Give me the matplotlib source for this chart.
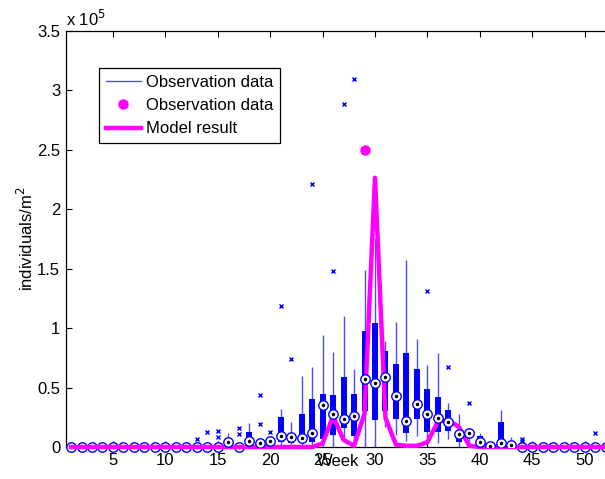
import numpy as np
import matplotlib
matplotlib.use("Agg")
import matplotlib.pyplot as plt
from matplotlib.lines import Line2D
from matplotlib.ticker import FuncFormatter

plt.rcParams['font.family'] = ['Liberation Sans', 'DejaVu Sans']

# ===== dados (unidades de 1e5 individuos/m2) =====
SCALE = 1e5
weeks = np.arange(1, 53)

med = [0, 0, 0, 0, 0, 0, 0, 0, 0, 0, 0, 0, 0, 0, 0, 0.04, 0, 0.05, 0.036, 0.053,
       0.09, 0.087, 0.078, 0.115, 0.35, 0.275, 0.235, 0.26, 0.57, 0.54,
       0.59, 0.43, 0.22, 0.36, 0.275, 0.24, 0.21, 0.107, 0.115, 0.04,
       0.01, 0.03, 0.02, 0, 0, 0, 0, 0, 0, 0, 0, 0]
q1 = [0, 0, 0, 0, 0, 0, 0, 0, 0, 0, 0, 0, 0, 0, 0, 0.02, 0, 0.03, 0.01, 0.02,
      0.045, 0.03, 0.04, 0.045, 0.07, 0.10, 0.16, 0.095, 0.30, 0.225,
      0.305, 0.233, 0.12, 0.233, 0.13, 0.13, 0.135, 0.045, 0.09, 0.02,
      0, 0.01, 0, 0, 0, 0, 0, 0, 0, 0, 0, 0]
q3 = [0, 0, 0, 0, 0, 0, 0, 0, 0, 0, 0, 0, 0, 0, 0, 0.05, 0, 0.13, 0.05, 0.07,
      0.25, 0.12, 0.28, 0.40, 0.45, 0.44, 0.586, 0.445, 0.975, 1.045,
      0.81, 0.70, 0.79, 0.656, 0.49, 0.42, 0.31, 0.143, 0.13, 0.095,
      0.01, 0.21, 0.02, 0, 0, 0, 0, 0, 0, 0, 0, 0]
wlo = [0, 0, 0, 0, 0, 0, 0, 0, 0, 0, 0, 0, 0, 0, 0, 0, 0, 0, 0, 0,
       0, 0, 0, 0, 0, 0, 0.04, 0, 0, 0,
       0.17, 0.10, 0.05, 0.09, 0.04, 0.03, 0.07, 0, 0.05, 0,
       0, 0, 0, 0, 0, 0, 0, 0, 0, 0, 0, 0]
whi = [0, 0, 0, 0.02, 0, 0, 0, 0, 0, 0.02, 0, 0, 0, 0, 0, 0.12, 0, 0.20, 0.07, 0.09,
       0.32, 0.21, 0.60, 0.67, 0.94, 0.80, 1.10, 0.66, 1.49, 1.755,
       0.89, 1.05, 1.57, 0.905, 0.69, 0.79, 0.37, 0.28, 0.14, 0.12,
       0.02, 0.31, 0.08, 0, 0, 0, 0, 0, 0, 0, 0, 0]

out_week = [13, 14, 15, 15, 17, 17, 19, 19, 20, 21, 22, 24, 26, 27, 28, 35, 37, 39, 44, 44, 51]
out_val = [0.065, 0.13, 0.137, 0.08, 0.16, 0.107, 0.196, 0.44, 0.13, 1.19, 0.74, 2.21,
           1.48, 2.89, 3.10, 1.31, 0.67, 0.37, 0.07, 0.05, 0.12]

obs_week = [29]
obs_val = [2.50]

model = [0] * 24 + [0.03, 0.26, 0.06, 0.01, 0.28, 2.265, 0.245, 0.02, 0.01, 0.01,
                    0.04, 0.215, 0.225, 0.17, 0.01] + [0] * 13

s = lambda v: np.asarray(v, dtype=float) * SCALE

fig = plt.figure(figsize=(6.05, 4.79), dpi=100)
ax = fig.add_axes([65.8 / 605, 32 / 479, 545 / 605, 416 / 479])

BLUE = '#0000ff'
ax.vlines(weeks, s(wlo), s(whi), color='#4d4dff', lw=1.0, zorder=2)
ax.vlines(weeks, s(q1), s(q3), color=BLUE, lw=4.3, zorder=3)

medv = np.asarray(med)
nz = medv > 0.005
# medianas nulas ficam por baixo da curva do modelo
ax.plot(weeks[~nz], s(medv[~nz]), 'o', ms=6.8, mfc='white', mec=BLUE, mew=1.0,
        zorder=4, clip_on=False)
ax.plot(weeks[~nz], s(medv[~nz]), '.', ms=3, color='black', zorder=4, clip_on=False)
ax.plot(weeks[nz], s(medv[nz]), 'o', ms=6.8, mfc='white', mec=BLUE, mew=1.0, zorder=6)
ax.plot(weeks[nz], s(medv[nz]), '.', ms=3, color='black', zorder=7)

ax.plot(out_week, s(out_val), 'x', ms=3.2, mew=1.0, color=BLUE, zorder=4)

ax.plot(weeks, s(model), color='#ff00ff', lw=3.2, zorder=5, clip_on=False,
        solid_joinstyle='round')
ax.plot(obs_week, s(obs_val), 'o', ms=6.5, color='#ff00ff', zorder=6)

ax.set_xlim(0.5, 52.5)
ax.set_ylim(0, 3.5 * SCALE)
ax.set_xticks(np.arange(5, 51, 5))
ax.set_yticks(np.arange(0, 3.51, 0.5) * SCALE)
ax.yaxis.set_major_formatter(FuncFormatter(lambda v, p: f"{v / SCALE:g}"))
ax.tick_params(direction='in', top=True, right=True, length=4, width=0.8,
               labelsize=12, pad=4)
for sp in ax.spines.values():
    sp.set_linewidth(0.9)

ax.set_xlabel('Week', fontsize=12)
ax.xaxis.set_label_coords(0.5, -0.017)
ax.set_ylabel('individuals/m$^2$', fontsize=12, va='center')
ax.yaxis.set_label_coords(-0.074, 0.5)
ax.text(0.0, 1.012, r'x 10$^5$', transform=ax.transAxes, ha='left',
        va='baseline', fontsize=12)

handles = [
    Line2D([], [], color='#4d4dff', lw=1.0),
    Line2D([], [], ls='none', marker='o', ms=6.5, color='#ff00ff'),
    Line2D([], [], color='#ff00ff', lw=3.2),
]
labels = ['Observation data', 'Observation data', 'Model result']
leg = ax.legend(handles, labels, loc='upper left', bbox_to_anchor=(0.061, 0.911),
                borderaxespad=0, fancybox=False, edgecolor='black', fontsize=12,
                handlelength=2.1, handletextpad=0.3, labelspacing=0.5,
                borderpad=0.4, framealpha=1)
leg.get_frame().set_linewidth(0.9)

fig.savefig('out.png', dpi=100)
